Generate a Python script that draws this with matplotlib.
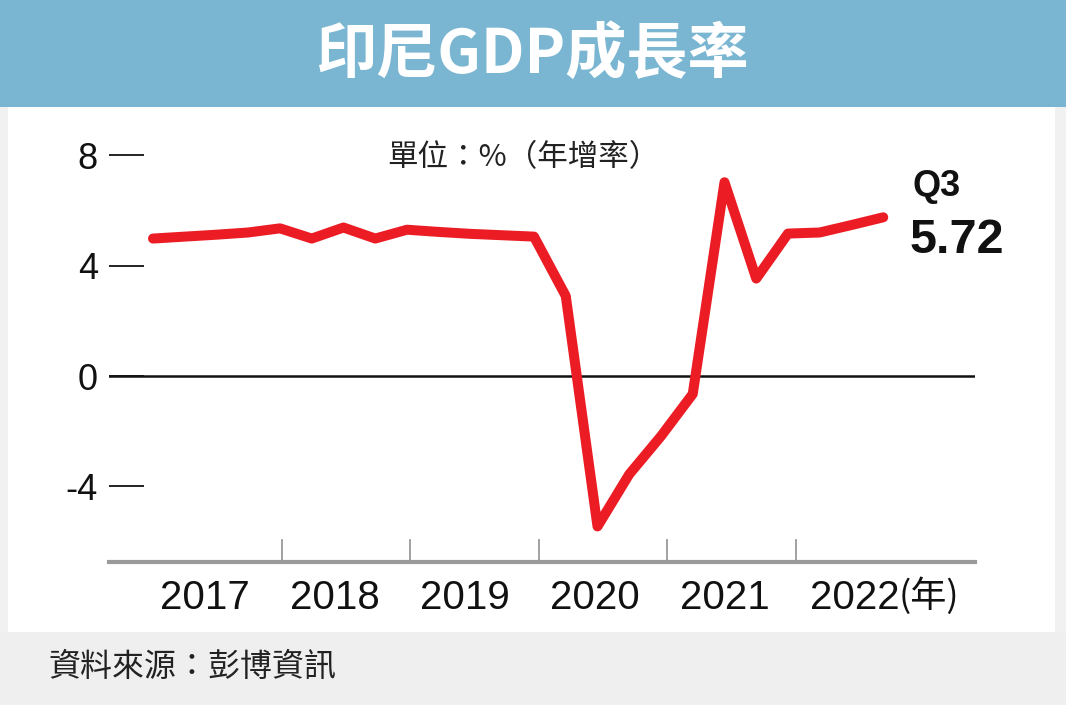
import matplotlib
matplotlib.use("Agg")
import matplotlib.pyplot as plt
from matplotlib.patches import Rectangle

plt.rcParams['font.family'] = ['Liberation Sans', 'Noto Sans CJK TC', 'DejaVu Sans']

# ---- data ----
quarters = ["2016Q4",
            "2017Q1", "2017Q2", "2017Q3", "2017Q4",
            "2018Q1", "2018Q2", "2018Q3", "2018Q4",
            "2019Q1", "2019Q2", "2019Q3", "2019Q4",
            "2020Q1", "2020Q2", "2020Q3", "2020Q4",
            "2021Q1", "2021Q2", "2021Q3", "2021Q4",
            "2022Q1", "2022Q2", "2022Q3"]
growth = [4.98,
          5.05, 5.12, 5.2, 5.35,
          4.98, 5.38, 4.98, 5.3,
          5.22, 5.15, 5.1, 5.05,
          2.9, -5.45, -3.56, -2.18,
          -0.65, 7.02, 3.53, 5.16,
          5.2, 5.47, 5.75]
years = ["2017", "2018", "2019", "2020", "2021", "2022"]
year_unit = "(年)"
yticks = [8, 4, 0, -4]
title = "印尼GDP成長率"
unit = "單位：%（年增率）"
source = "資料來源：彭博資訊"
last_q = "Q3"
last_val = "5.72"

W, H = 1066, 705
fig = plt.figure(figsize=(W / 100, H / 100), dpi=100)
fig.patch.set_facecolor("#f1f1f1")

def fx(px):
    return px / W

def fy(py):
    return 1 - py / H

# white panel
fig.patches.append(Rectangle((fx(8), fy(632)), fx(1055) - fx(8), fy(107) - fy(632),
                             transform=fig.transFigure, facecolor="white", edgecolor="none", zorder=-10))
# banner
fig.patches.append(Rectangle((0, fy(107)), 1, 1 - fy(107),
                             transform=fig.transFigure, facecolor="#7ab6d2", edgecolor="none", zorder=-10))
# footer
fig.patches.append(Rectangle((0, 0), 1, fy(632),
                             transform=fig.transFigure, facecolor="#efefef", edgecolor="none", zorder=-10))

fig.text(fx(533), fy(55), title, color="white", fontsize=44, fontweight="bold",
         family=["Noto Sans CJK TC"], ha="center", va="center")
fig.text(fx(48), fy(667), source, color="#222222", fontsize=23,
         family=["Noto Sans CJK TC"], ha="left", va="center")
fig.text(fx(523), fy(158), unit, color="#222222", fontsize=22,
         family=["Noto Sans CJK TC"], ha="center", va="center")

# axes
ax = fig.add_axes([fx(109), fy(562), fx(975) - fx(109), fy(130) - fy(562)])
ax.set_facecolor("none")
x = list(range(len(quarters)))
ax.plot(x, growth, color="#ec1c24", lw=7.2, solid_capstyle="round",
        solid_joinstyle="round", zorder=3)
ax.axhline(0, color="#111111", lw=1.8, zorder=2)

ax.set_xlim(-1.386, 25.89)
ax.set_ylim(-6.739, 8.913)

for s in ["top", "right", "left"]:
    ax.spines[s].set_visible(False)
ax.spines["bottom"].set_color("#9a9a9a")
ax.spines["bottom"].set_linewidth(3)

ax.set_yticks(yticks)
ax.set_yticklabels([str(v) for v in yticks])
ax.tick_params(axis="y", direction="in", length=25, width=1.3, color="#111111",
               pad=8, labelsize=26, labelcolor="#111111")

# year separators
for k in range(1, len(years)):
    ax.plot([4.05 * k, 4.05 * k], [0, 0.051], transform=ax.get_xaxis_transform(),
            color="#9a9a9a", lw=1.3, clip_on=False)

label_pos = [1.64 + 4.09 * k for k in range(len(years))]
ax.set_xticks(label_pos)
ax.set_xticklabels(years)
ax.tick_params(axis="x", length=0, pad=12, labelsize=29, labelcolor="#111111")

fig.text(fx(899), fy(596), year_unit, fontsize=26, color="#111111",
         family=["Noto Sans CJK TC"], ha="left", va="center")

fig.text(fx(912), fy(186), last_q, fontsize=26, fontweight="bold", color="#111111",
         ha="left", va="center")
fig.text(fx(910), fy(240), last_val, fontsize=35, fontweight="bold", color="#111111",
         ha="left", va="center")

fig.savefig("out.png", dpi=100)
